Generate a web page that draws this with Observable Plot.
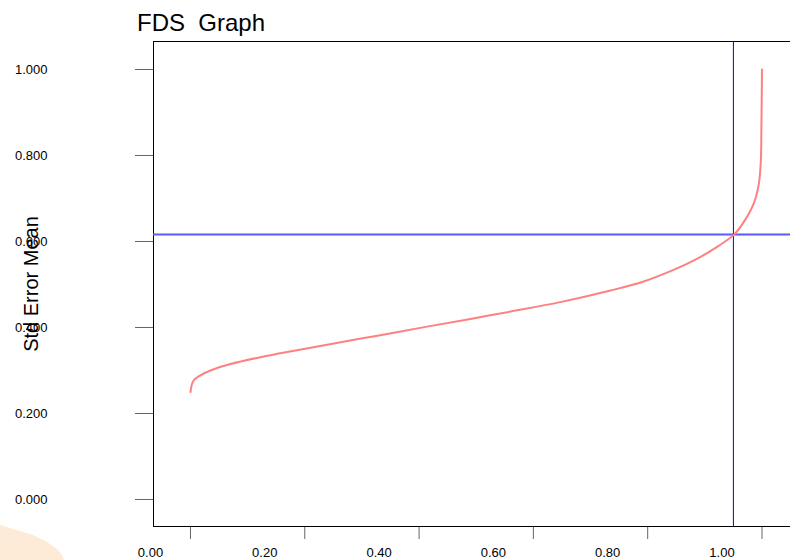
<!DOCTYPE html>
<html>
<head>
<meta charset="utf-8">
<script src="https://cdn.jsdelivr.net/npm/d3@7"></script>
<script src="https://cdn.jsdelivr.net/npm/@observablehq/plot@0.6"></script>
<style>
  html, body { margin: 0; padding: 0; background: white; width: 790px; height: 560px; overflow: hidden; }
  body { position: relative; font-family: "Liberation Sans", Arial, sans-serif; }
  #peach { position: absolute; left: 0; top: 520px; width: 70px; height: 40px; background: #fdebd7;
    clip-path: polygon(0px 5px, 10px 8px, 20px 11px, 33px 15px, 47px 22px, 57px 29px, 62px 35px, 64px 40px, 0px 40px); }
  #title { position: absolute; left: 137px; top: 11px; font-size: 24px; line-height: 24px; white-space: pre; color: #000; }
  #chart { position: absolute; left: 0; top: 36px; }
</style>
</head>
<body>
<div id="peach"></div>
<div id="title">FDS  Graph</div>
<div id="chart"></div>
<script>
// Sorted fraction (x) vs Std Error Mean (y)
const fractions = [0, 0.003, 0.007, 0.015, 0.035, 0.07, 0.1225, 0.157, 0.239, 0.327, 0.414, 0.49, 0.56, 0.647, 0.735, 0.793, 0.84, 0.881, 0.916, 0.951, 0.968, 0.986, 0.9945, 0.998, 0.999, 1.0];
const values    = [0.250, 0.270, 0.279, 0.287, 0.300, 0.315, 0.331, 0.340, 0.360, 0.381, 0.402, 0.420, 0.437, 0.459, 0.486, 0.507, 0.531, 0.556, 0.583, 0.616, 0.645, 0.690, 0.734, 0.788, 0.866, 1.000];
const xTicks = [0, 0.2, 0.4, 0.6, 0.8, 1.0];
const yTicks = [0, 0.2, 0.4, 0.6, 0.8, 1.0];
const refX = [0.95];
const refY = [0.616];
const yLabel = ["Std Error Mean"];

const data = fractions.map((f, i) => ({x: f, y: values[i]}));

const chart = Plot.plot({
  width: 790,
  height: 524,
  marginLeft: 153,
  marginRight: 0,
  marginTop: 5,
  marginBottom: 34,
  style: {fontFamily: "'Liberation Sans', Arial, sans-serif", fontSize: "13px", background: "transparent", overflow: "visible", color: "black"},
  x: {domain: [-0.0647, 1.0499]},
  y: {domain: [-0.0628, 1.0651]},
  marks: [
    Plot.axisY({ticks: yTicks, tickSize: 18, tickPadding: 88, tickFormat: d3.format(".3f"), label: null, stroke: "#666", fill: "black", fontSize: 13}),
    Plot.axisX({ticks: xTicks, tickSize: 13, tickFormat: () => "", label: null, stroke: "#666"}),
    Plot.axisX({ticks: xTicks, tickSize: 0, tickPadding: 21, dx: -40, tickFormat: d3.format(".2f"), label: null, fill: "black", fontSize: 13}),
    Plot.ruleX([-0.0647], {stroke: "black"}),
    Plot.ruleY([-0.0628, 1.0651], {stroke: "black"}),
    Plot.ruleY(refY, {stroke: "#5a5aff", strokeWidth: 2}),
    Plot.ruleX(refX, {stroke: "#0000ff", strokeWidth: 1}),
    Plot.line(data, {x: "x", y: "y", stroke: "#ff8080", strokeWidth: 2, curve: "catmull-rom"}),
    Plot.text(yLabel, {frameAnchor: "left", textAnchor: "middle", rotate: -90, dx: -122, fontSize: 20, fill: "black"})
  ]
});
document.getElementById("chart").appendChild(chart);
</script>
</body>
</html>
